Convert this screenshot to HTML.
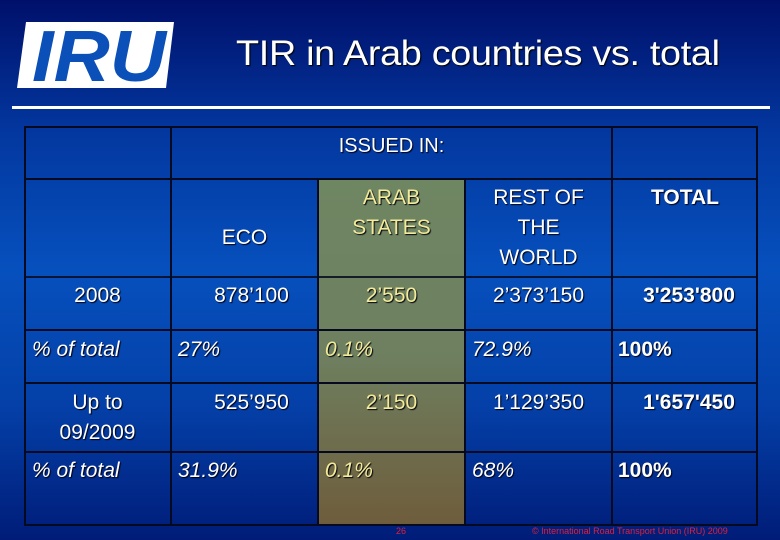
<!DOCTYPE html>
<html><head><meta charset="utf-8">
<style>
*{margin:0;padding:0;box-sizing:border-box}
body{width:780px;height:540px;overflow:hidden;font-family:"Liberation Sans",sans-serif;}
#slide{position:relative;width:780px;height:540px;background:linear-gradient(180deg,#00106a 0%,#0338a0 25%,#0650bd 50%,#0440a8 75%,#001c78 100%);}
.t{position:absolute;color:#fff;text-shadow:1px 1px 1px #000;}
.c{position:absolute;color:#fff;font-size:21px;text-align:center;text-shadow:1px 1px 1px #001;line-height:30px}
.y{color:#f3eb98}
.i{font-style:italic;text-align:left}
.b{font-weight:bold}
</style></head><body>
<div id="slide">
<svg style="position:absolute;left:16px;top:21px" width="160" height="70">
<polygon points="10,1 158,1 150,67 1,67" fill="#fff"/>
<text x="16" y="60" font-family="Liberation Sans" font-weight="bold" font-style="italic" font-size="72" fill="#0a50b8" textLength="134" lengthAdjust="spacingAndGlyphs">IRU</text>
</svg>
<div class="t" style="left:236px;top:34px;font-size:35px;letter-spacing:-0.3px;transform:scaleX(1.08);transform-origin:left top;white-space:nowrap">TIR in Arab countries vs. total</div>
<div style="position:absolute;left:12px;top:106px;width:758px;height:3px;background:#fff"></div>

<div style="position:absolute;left:318px;top:179px;width:147px;height:346px;background:linear-gradient(180deg,#6f8663 0%,#6e8060 50%,#6e5d3c 100%)"></div>

<div style="position:absolute;left:24px;top:126px;width:734px;height:400px;border:2px solid #050a20"></div>
<div style="position:absolute;left:170px;top:126px;width:2px;height:400px;background:#050a20"></div>
<div style="position:absolute;left:317px;top:179px;width:2px;height:347px;background:#050a20"></div>
<div style="position:absolute;left:464px;top:179px;width:2px;height:347px;background:#050a20"></div>
<div style="position:absolute;left:611px;top:126px;width:2px;height:400px;background:#050a20"></div>
<div style="position:absolute;left:24px;top:178px;width:734px;height:2px;background:#050a20"></div>
<div style="position:absolute;left:24px;top:276px;width:734px;height:2px;background:#050a20;opacity:.85"></div>
<div style="position:absolute;left:24px;top:329px;width:734px;height:2px;background:#050a20"></div>
<div style="position:absolute;left:24px;top:382px;width:734px;height:2px;background:#050a20"></div>
<div style="position:absolute;left:24px;top:451px;width:734px;height:2px;background:#050a20"></div>

<div class="c" style="left:171px;top:131px;width:441px;font-size:20px">ISSUED IN:</div>
<div class="c" style="left:171px;top:223px;width:147px">ECO</div>
<div class="c y" style="left:318px;top:183px;width:147px">ARAB<br>STATES</div>
<div class="c" style="left:465px;top:183px;width:147px">REST OF<br>THE<br>WORLD</div>
<div class="c b" style="left:612px;top:183px;width:146px">TOTAL</div>

<div class="c" style="left:24px;top:281px;width:147px">2008</div>
<div class="c" style="left:171px;top:281px;width:147px;padding-left:14px">878’100</div>
<div class="c y" style="left:318px;top:281px;width:147px">2’550</div>
<div class="c" style="left:465px;top:281px;width:147px">2’373’150</div>
<div class="c b" style="left:612px;top:281px;width:146px;padding-left:8px">3'253'800</div>

<div class="c i" style="left:32px;top:335px">% of total</div>
<div class="c i" style="left:178px;top:335px">27%</div>
<div class="c i y" style="left:325px;top:335px">0.1%</div>
<div class="c i" style="left:472px;top:335px">72.9%</div>
<div class="c i b" style="left:618px;top:335px;font-style:normal">100%</div>

<div class="c" style="left:24px;top:388px;width:147px">Up to<br>09/2009</div>
<div class="c" style="left:171px;top:388px;width:147px;padding-left:14px">525’950</div>
<div class="c y" style="left:318px;top:388px;width:147px">2’150</div>
<div class="c" style="left:465px;top:388px;width:147px">1’129’350</div>
<div class="c b" style="left:612px;top:388px;width:146px;padding-left:8px">1'657'450</div>

<div class="c i" style="left:32px;top:456px">% of total</div>
<div class="c i" style="left:178px;top:456px">31.9%</div>
<div class="c i y" style="left:325px;top:456px">0.1%</div>
<div class="c i" style="left:472px;top:456px">68%</div>
<div class="c i b" style="left:618px;top:456px;font-style:normal">100%</div>

<div class="t" style="left:396px;top:526px;font-size:9px;color:#e0203a;text-shadow:none">26</div>
<div class="t" style="left:532px;top:526px;font-size:9px;color:#e0203a;text-shadow:none">© International Road Transport Union (IRU) 2009</div>
</div>
</body></html>
